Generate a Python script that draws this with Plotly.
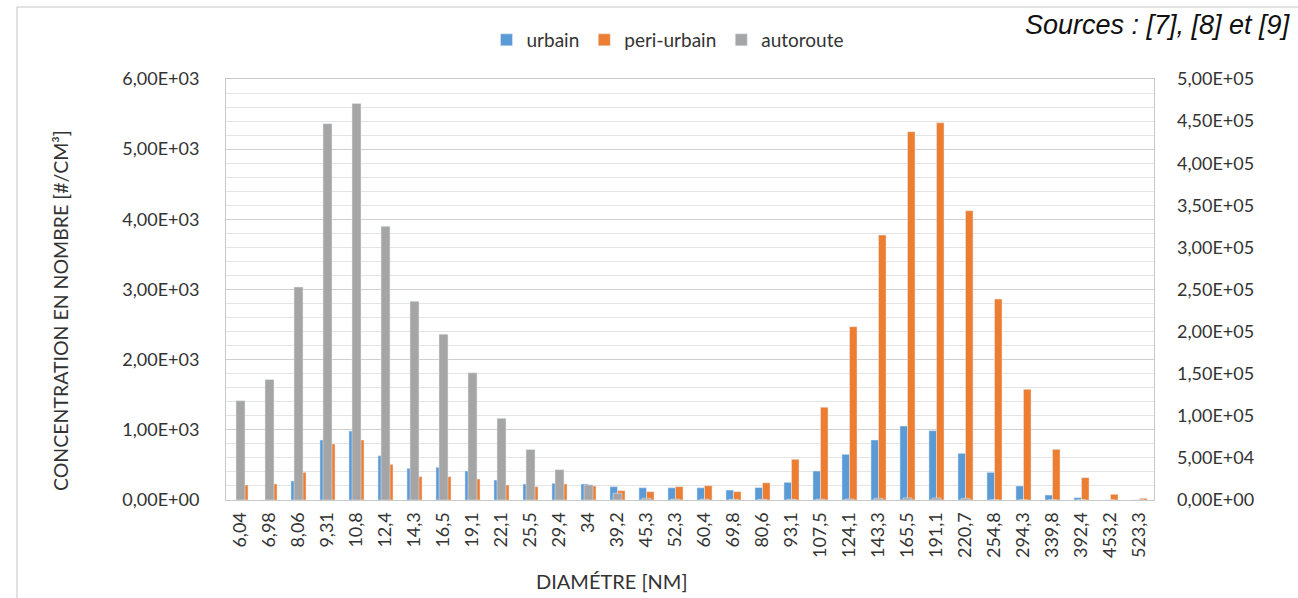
import plotly.graph_objects as go

# Particle diameter classes (nm), as printed on the category axis
diametres = ["6,04", "6,98", "8,06", "9,31", "10,8", "12,4", "14,3", "16,5", "19,1",
             "22,1", "25,5", "29,4", "34", "39,2", "45,3", "52,3", "60,4", "69,8",
             "80,6", "93,1", "107,5", "124,1", "143,3", "165,5", "191,1", "220,7",
             "254,8", "294,3", "339,8", "392,4", "453,2", "523,3"]

# Number concentrations (#/cm3) - urbain and peri-urbain on the left axis
urbain = [0, 0, 271, 855, 983, 632, 451, 466, 413, 285, 228, 238, 228, 190, 175, 175,
          175, 142, 178, 252, 413, 651, 855, 1055, 988, 665, 394, 200, 71, 33, 0, 0]
peri_urbain = [214, 228, 394, 798, 855, 508, 332, 332, 299, 214, 190, 228, 200, 133, 119,
               190, 204, 119, 245, 580, 1321, 2470, 3776, 5249, 5377, 4123, 2864, 1577,
               722, 318, 81, 24]
# autoroute on the right axis
autoroute = [118000, 143000, 253000, 447000, 471000, 325000, 236000, 197000, 151000,
             97000, 60000, 36000, 18000, 8000, 2000, 1000, 1000, 800, 800, 800, 1000,
             1200, 2000, 2500, 2500, 2000, 0, 0, 0, 0, 0, 0]

left_ticks = [0, 1000, 2000, 3000, 4000, 5000, 6000]
right_ticks = [0, 50000, 100000, 150000, 200000, 250000, 300000, 350000, 400000,
               450000, 500000]


def sci_fr(v):
    s = f"{v:.2E}"
    mant, exp = s.split("E")
    sign = exp[0]
    return f"{mant.replace('.', ',')}E{sign}{int(exp[1:]):02d}"


W, H = 1298, 598
L, R, T, B = 226, 1154, 79, 500
pw, ph = R - L, B - T


def px(x):
    return (x - L) / pw


def py(y):
    return (B - y) / ph


FONT = "Lato"
TXT = "#333333"
FS = 18

fig = go.Figure()
fig.add_trace(go.Bar(x=diametres, y=urbain, name="urbain", marker_color="#5B9BD5",
                     offset=-0.26, width=0.26, yaxis="y"))
fig.add_trace(go.Bar(x=diametres, y=peri_urbain, name="peri-urbain", marker_color="#ED7D31",
                     offset=0.0, width=0.26, yaxis="y"))
fig.add_trace(go.Bar(x=diametres, y=autoroute, name="autoroute", marker_color="#A5A5A5",
                     offset=-0.155, width=0.31, yaxis="y2"))

fig.update_layout(
    width=W, height=H,
    margin=dict(l=L, r=W - R, t=T, b=H - B),
    paper_bgcolor="white", plot_bgcolor="white",
    barmode="overlay",
    font=dict(family=FONT, size=FS, color=TXT),
    showlegend=True,
    legend=dict(orientation="h", x=px(668), y=py(40), xanchor="center", yanchor="middle",
                font=dict(size=19, color=TXT), itemwidth=30, tracegroupgap=0,
                bgcolor="rgba(0,0,0,0)"),
    xaxis=dict(type="category", tickangle=-90, showgrid=False, showline=True,
               linecolor="#c8c8c8", linewidth=1, mirror=True, ticks="",
               tickfont=dict(size=FS, color=TXT), ticklabelstandoff=4),
    yaxis=dict(range=[0, 6000], tickvals=left_ticks,
               ticktext=[sci_fr(v) for v in left_ticks],
               showgrid=True, gridcolor="#cfcfcf", gridwidth=1,
               minor=dict(dtick=200, showgrid=True, gridcolor="#e4e4e4", gridwidth=1),
               showline=True, linecolor="#c8c8c8", linewidth=1, mirror=True,
               zeroline=False, ticks="", ticklabelstandoff=22,
               tickfont=dict(size=FS, color=TXT)),
    yaxis2=dict(range=[0, 500000], tickvals=right_ticks,
                ticktext=[sci_fr(v) for v in right_ticks],
                overlaying="y", side="right", showgrid=False, zeroline=False,
                ticks="", ticklabelstandoff=22, tickfont=dict(size=FS, color=TXT)),
)

annotations = [
    dict(text="CONCENTRATION EN NOMBRE [#/CM³]", x=px(60), y=py(311), xref="paper",
         yref="paper", textangle=-90, showarrow=False, xanchor="center", yanchor="middle",
         font=dict(size=19.5, color=TXT, family=FONT)),
    dict(text="DIAMÉTRE [NM]", x=px(612), y=py(581), xref="paper", yref="paper",
         showarrow=False, xanchor="center", yanchor="middle",
         font=dict(size=20, color=TXT, family=FONT)),
    dict(text="<i>Sources : [7], [8] et [9]</i>", x=px(1293), y=py(25), xref="paper",
         yref="paper", showarrow=False, xanchor="right", yanchor="middle",
         font=dict(size=27, color="#111111", family="Liberation Sans")),
]
fig.update_layout(annotations=annotations)

# chart frame (top and left edges)
fig.add_shape(type="line", xref="paper", yref="paper", x0=px(17), x1=px(W + 5),
              y0=py(7), y1=py(7), line=dict(color="#d9d9d9", width=1.5))
fig.add_shape(type="line", xref="paper", yref="paper", x0=px(17), x1=px(17),
              y0=py(7), y1=py(H + 5), line=dict(color="#d9d9d9", width=1.5))

fig.write_html("out.html")
